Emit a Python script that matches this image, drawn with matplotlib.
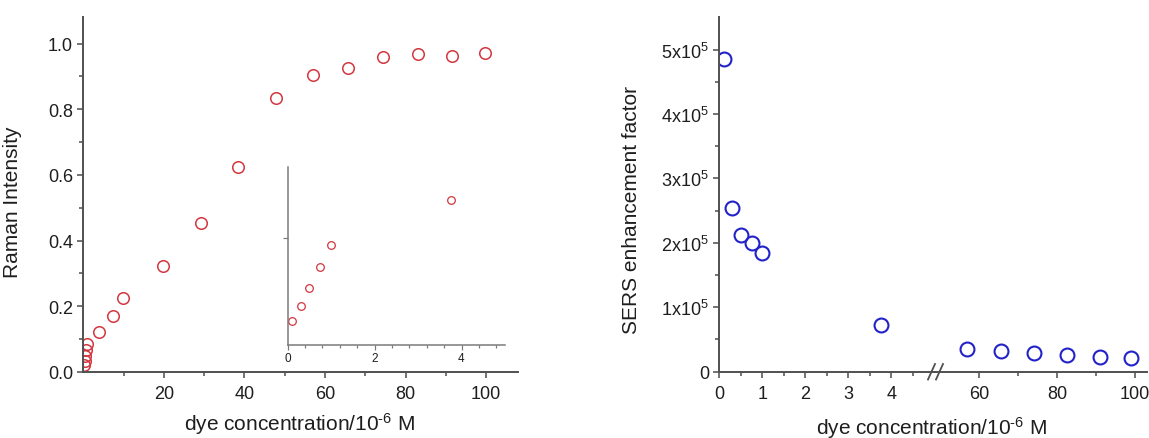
import matplotlib
matplotlib.use('Agg')
import matplotlib.pyplot as plt
from matplotlib.lines import Line2D
import numpy as np

# low-concentration points (shown in main plot and zoomed inset)
low_conc = [0.1, 0.3, 0.5, 0.75, 1.0, 3.75]
low_raman = [0.020, 0.033, 0.048, 0.066, 0.084, 0.122]

# remaining Raman intensity points
high_conc = [7.3, 9.8, 19.7, 29.1, 38.5, 47.8, 56.9, 65.7, 74.5, 83.1, 91.5, 99.7]
high_raman = [0.171, 0.224, 0.323, 0.453, 0.623, 0.833, 0.904, 0.927, 0.960, 0.967, 0.963, 0.970]

# SERS enhancement factor, split at the axis break
ef_conc_low = [0.1, 0.3, 0.5, 0.75, 1.0, 3.75]
ef_low = [4.86e5, 2.54e5, 2.12e5, 2.00e5, 1.84e5, 0.73e5]
ef_conc_high = [56.8, 65.5, 74.0, 82.6, 91.0, 99.0]
ef_high = [0.352e5, 0.318e5, 0.287e5, 0.260e5, 0.234e5, 0.216e5]

raman_ticks = [0.0, 0.2, 0.4, 0.6, 0.8, 1.0]
raman_labels = ['0.0', '0.2', '0.4', '0.6', '0.8', '1.0']
ef_ticks = [0, 1e5, 2e5, 3e5, 4e5, 5e5]
ef_labels = ['0', '1x10$^5$', '2x10$^5$', '3x10$^5$', '4x10$^5$', '5x10$^5$']

xlabel = 'dye concentration/10$^{\u2010 6}$ M'

plt.rcParams['font.family'] = ['Liberation Sans', 'DejaVu Sans']
plt.rcParams['mathtext.fontset'] = 'custom'
plt.rcParams['mathtext.rm'] = 'Liberation Sans'
plt.rcParams['mathtext.it'] = 'Liberation Sans:italic'

W, H = 1149, 439
spine_c = '#505050'
text_c = '#1e1e1e'
red = '#d2363f'
blue = '#2222c8'

def box(l, r, t, b):
    return [l / W, 1 - b / H, (r - l) / W, (b - t) / H]

def style(ax, size=13, lw=1.4, col=spine_c):
    for s in ['top', 'right']:
        ax.spines[s].set_visible(False)
    for s in ['left', 'bottom']:
        ax.spines[s].set_color(col)
        ax.spines[s].set_linewidth(lw)
    ax.tick_params(which='both', direction='out', color=col, width=lw * 0.8,
                   labelsize=size, labelcolor=text_c)
    ax.tick_params(which='major', length=4.5, pad=3)
    ax.tick_params(which='minor', length=3)

fig = plt.figure(figsize=(11.49, 4.39), dpi=100)

# ---- left: Raman intensity ----
ax1 = fig.add_axes(box(83.4, 518.3, 18.3, 372.8))
ax1.plot(low_conc + high_conc, low_raman + high_raman, 'o', mfc='none', mec=red,
         ms=8.3, mew=1.1)
ax1.set_xlim(0, 108)
ax1.set_ylim(0, 1.08)
ax1.set_xticks([20, 40, 60, 80, 100])
ax1.set_xticks([10, 30, 50, 70, 90], minor=True)
ax1.set_yticks(raman_ticks, raman_labels)
ax1.set_yticks(np.arange(0.1, 1.0, 0.2), minor=True)
style(ax1)
ax1.tick_params(axis='x', pad=5)
ax1.set_ylabel('Raman Intensity', fontsize=15, color=text_c)
ax1.yaxis.set_label_coords(-0.141, 0.482)
fig.text(300 / W, 1 - 431 / H, xlabel, fontsize=15,
         color=text_c, ha='center', va='baseline')

# inset with the low-concentration points
axin = fig.add_axes(box(287.5, 505, 168.3, 345.7))
axin.plot(low_conc, low_raman, 'o', mfc='none', mec=red, ms=5.5, mew=0.9)
axin.set_xlim(0, 5.0)
axin.set_ylim(0, 0.150)
axin.set_xticks([0, 2, 4])
axin.set_xticks(np.arange(0.4, 5.0, 0.4), minor=True)
axin.set_yticks([0.09], [''])
axin.patch.set_alpha(0)
style(axin, size=8.5, lw=1.1, col='#7a7a7a')
axin.tick_params(which='major', length=3.5, pad=2)
axin.tick_params(which='minor', length=2)

# ---- right: SERS enhancement factor with broken x axis ----
axa = fig.add_axes(box(719.3, 935, 18.3, 372.7))
axb = fig.add_axes(box(935, 1147, 18.3, 372.7))
axa.plot(ef_conc_low, ef_low, 'o', mfc='none', mec=blue, ms=10, mew=1.5)
axb.plot(ef_conc_high, ef_high, 'o', mfc='none', mec=blue, ms=10, mew=1.5)
axa.set_xlim(0, 5.016)
axb.set_xlim(48.7, 48.7 + 212 / 3.9)
for a in (axa, axb):
    a.set_ylim(0, 5.5e5)
axa.set_xticks([0, 1, 2, 3, 4])
axa.set_xticks([0.5, 1.5, 2.5, 3.5, 4.5], minor=True)
axb.set_xticks([60, 80, 100])
axb.set_xticks([70, 90], minor=True)
axa.set_yticks(ef_ticks, ef_labels)
axa.set_yticks(np.arange(0.5e5, 5.5e5, 1e5), minor=True)
style(axa)
style(axb)
axa.tick_params(axis='x', pad=5)
axb.tick_params(axis='x', pad=5)
axb.spines['left'].set_visible(False)
axb.tick_params(axis='y', which='both', left=False, labelleft=False)
axb.patch.set_alpha(0)
axa.set_ylabel('SERS enhancement factor', fontsize=15, color=text_c)
axa.yaxis.set_label_coords(-0.363, 0.459)
fig.text(932 / W, 1 - 435 / H, xlabel, fontsize=15,
         color=text_c, ha='center', va='baseline')

# break marks on the x axis
for xc in (931.5, 939.5):
    fig.add_artist(Line2D([(xc - 3.5) / W, (xc + 3.5) / W],
                          [1 - 380.5 / H, 1 - 365 / H],
                          color=spine_c, lw=1.3))

fig.savefig('out.png', dpi=100)
